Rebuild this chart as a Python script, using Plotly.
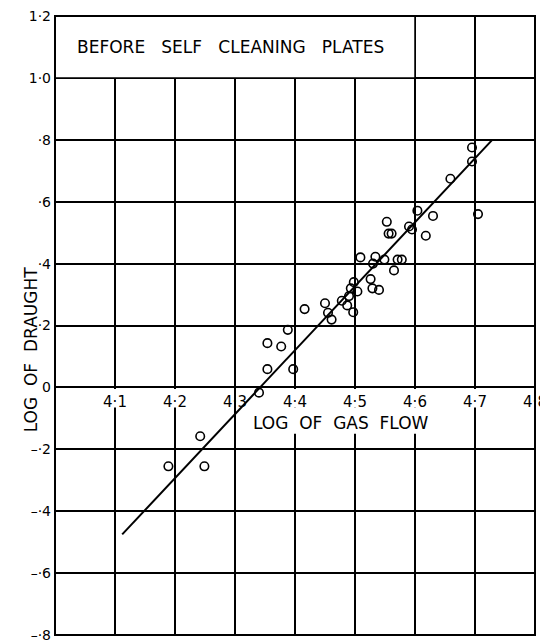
import plotly.graph_objects as go

# data
gas_flow = [4.189, 4.242, 4.249, 4.340, 4.354, 4.397, 4.354, 4.377, 4.388, 4.416,
            4.450, 4.455, 4.461, 4.478, 4.487, 4.490, 4.493, 4.498, 4.504, 4.497,
            4.526, 4.529, 4.540, 4.530, 4.509, 4.534, 4.549, 4.565, 4.571, 4.578,
            4.553, 4.556, 4.561, 4.590, 4.595, 4.618, 4.604, 4.630, 4.705, 4.659,
            4.695, 4.695]
draught = [-0.255, -0.158, -0.255, -0.017, 0.059, 0.059, 0.143, 0.132, 0.186, 0.253,
           0.272, 0.241, 0.219, 0.280, 0.265, 0.295, 0.320, 0.340, 0.310, 0.243,
           0.350, 0.320, 0.315, 0.400, 0.420, 0.422, 0.413, 0.378, 0.413, 0.413,
           0.535, 0.497, 0.497, 0.520, 0.510, 0.490, 0.571, 0.554, 0.560, 0.674,
           0.730, 0.775]
fit_x = [4.112, 4.728]
fit_y = [-0.475, 0.798]

x_ticks = [4.1, 4.2, 4.3, 4.4, 4.5, 4.6, 4.7, 4.8]
x_labels = ["4·1", "4·2", "4·3", "4·4", "4·5", "4·6", "4·7", "4·8"]
y_ticks = [-0.8, -0.6, -0.4, -0.2, 0, 0.2, 0.4, 0.6, 0.8, 1.0, 1.2]
y_labels = ["–·8", "–·6", "–·4", "–·2", "0", "·2", "·4", "·6", "·8", "1·0", "1·2"]

FONT = "DejaVu Sans"

fig = go.Figure()
fig.add_trace(go.Scatter(x=fit_x, y=fit_y, mode="lines",
                         line=dict(color="black", width=2), showlegend=False))
fig.add_trace(go.Scatter(x=gas_flow, y=draught, mode="markers",
                         marker=dict(symbol="circle-open", size=8.5,
                                     color="black", line=dict(width=1.6)),
                         showlegend=False))

# title box in top band
fig.add_shape(type="rect", x0=4.0, x1=4.6, y0=1.0, y1=1.2, xref="x", yref="y",
              fillcolor="white", line=dict(color="black", width=1.5), layer="between")
# gaps in the grid behind the x tick labels and the x title
for gx0, gx1 in [(4.0, 4.29), (4.31, 4.8)]:
    fig.add_shape(type="rect", x0=gx0, x1=gx1, y0=-0.065, y1=-0.005, xref="x", yref="y",
                  fillcolor="white", line=dict(width=0), layer="between")
fig.add_shape(type="rect", x0=4.36, x1=4.66, y0=-0.15, y1=-0.065, xref="x", yref="y",
              fillcolor="white", line=dict(width=0), layer="between")
# frame
fig.add_shape(type="rect", x0=0, x1=1, y0=0, y1=1, xref="x domain", yref="y domain",
              line=dict(color="black", width=2), layer="above")

fig.add_annotation(x=4.292, y=1.1, xref="x", yref="y", showarrow=False,
                   text="BEFORE   SELF   CLEANING   PLATES",
                   font=dict(family=FONT, size=17, color="black"))
fig.add_annotation(x=4.476, y=-0.115, xref="x", yref="y", showarrow=False,
                   text="LOG  OF  GAS  FLOW",
                   font=dict(family=FONT, size=17, color="black"))
fig.add_annotation(x=0, xref="paper", xshift=-36, y=0.12, yref="y", showarrow=False,
                   text="LOG  OF  DRAUGHT", textangle=-90,
                   font=dict(family=FONT, size=17, color="black"))

fig.update_xaxes(range=[4.0, 4.8], tickvals=x_ticks, ticktext=x_labels,
                 showgrid=True, gridcolor="black", gridwidth=1.5,
                 zeroline=False, showline=False, ticks="", automargin=False,
                 anchor="free", position=0.4, ticklabelstandoff=4,
                 ticklabeloverflow="allow",
                 tickfont=dict(family=FONT, size=15, color="black"))
fig.update_yaxes(range=[-0.8, 1.2], tickvals=y_ticks, ticktext=y_labels,
                 showgrid=True, gridcolor="black", gridwidth=1.5, automargin=False,
                 zeroline=False, showline=False, ticks="", ticklabelstandoff=3,
                 ticklabeloverflow="allow",
                 tickfont=dict(family=FONT, size=14, color="black"))

# page body adds an 8px offset; size the figure so the plot lands where the reference has it
fig.update_layout(width=540, height=640, margin=dict(l=47, r=13, t=8, b=13),
                  plot_bgcolor="white", paper_bgcolor="white", showlegend=False)

fig.write_html("out.html")
